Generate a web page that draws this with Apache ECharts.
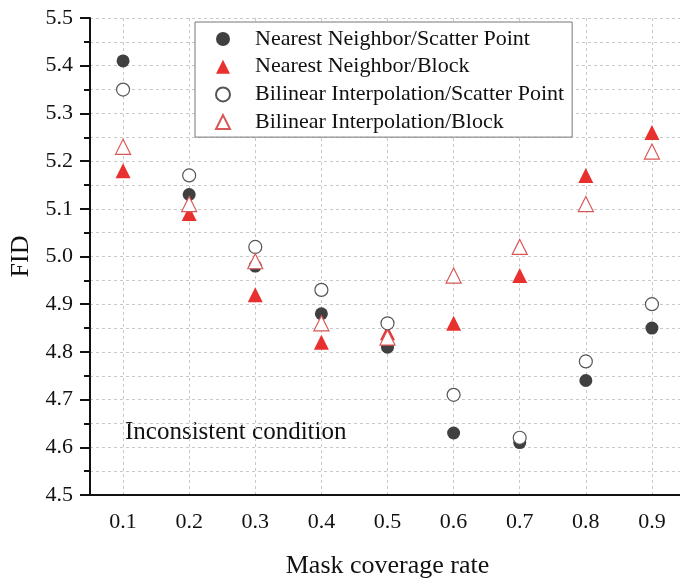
<!DOCTYPE html>
<html>
<head>
<meta charset="utf-8">
<script src="https://cdn.jsdelivr.net/npm/echarts@6/dist/echarts.min.js"></script>
<style>
html,body{margin:0;padding:0;background:#fff;}
#main{width:680px;height:578px;}
</style>
</head>
<body>
<div id="main"></div>
<script>
// 掩膜覆盖率
var rates=["0.1","0.2","0.3","0.4","0.5","0.6","0.7","0.8","0.9"];
// 各方法的FID
var nnScatter=[5.41,5.13,4.98,4.88,4.81,4.63,4.61,4.74,4.85];
var nnBlock=[5.18,5.09,4.92,4.82,4.84,4.86,4.96,5.17,5.26];
var biScatter=[5.35,5.17,5.02,4.93,4.86,4.71,4.62,4.78,4.90];
var biBlock=[5.23,5.11,4.99,4.86,4.83,4.96,5.02,5.11,5.22];
var names=["Nearest Neighbor/Scatter Point","Nearest Neighbor/Block","Bilinear Interpolation/Scatter Point","Bilinear Interpolation/Block"];

var serif="'Liberation Serif','DejaVu Serif',serif";
var gridLine={show:true,lineStyle:{color:"#c8c8c8",width:1,type:[3,3]}};

var myChart=echarts.init(document.getElementById("main"));
var option={
    animation:false,
    backgroundColor:"#fff",
    grid:{left:90,top:18,width:595,height:477,outerBoundsMode:"none",containLabel:false},
    legend:{
        data:names,
        orient:"vertical",
        left:195,
        top:22,
        padding:[6,8,4,20],
        itemWidth:14,
        itemHeight:14,
        itemGap:5.7,
        borderColor:"#777",
        borderWidth:1,
        backgroundColor:"#fff",
        textStyle:{fontFamily:serif,fontSize:22,lineHeight:22,color:"#111",padding:[0,0,0,20]}
    },
    graphic:[{
        type:"text",
        left:125,
        top:420,
        style:{text:"Inconsistent condition",font:"25px "+serif,fill:"#111"}
    }],
    xAxis:{
        type:"category",
        data:rates,
        boundaryGap:true,
        name:"Mask coverage rate",
        nameLocation:"middle",
        nameGap:58,
        nameTextStyle:{fontFamily:serif,fontSize:26,color:"#111"},
        axisLine:{lineStyle:{color:"#111",width:2}},
        axisTick:{alignWithLabel:true,length:8,lineStyle:{color:"#111",width:2}},
        axisLabel:{margin:16,fontFamily:serif,fontSize:22,color:"#111"},
        splitLine:{show:true,alignWithLabel:true,lineStyle:gridLine.lineStyle}
    },
    yAxis:{
        type:"value",
        min:4.5,
        max:5.5,
        interval:0.1,
        name:"FID",
        nameLocation:"middle",
        nameGap:55,
        nameTextStyle:{fontFamily:serif,fontSize:26,color:"#111"},
        axisLine:{show:true,lineStyle:{color:"#111",width:2}},
        axisTick:{show:true,length:10,lineStyle:{color:"#111",width:2}},
        minorTick:{show:true,splitNumber:2,length:6,lineStyle:{color:"#111",width:2}},
        axisLabel:{margin:17,fontFamily:serif,fontSize:22,color:"#111",
            formatter:function(v){return v.toFixed(1);}},
        splitLine:gridLine,
        minorSplitLine:gridLine
    },
    series:[
        {name:names[0],type:"scatter",symbol:"circle",symbolSize:13,data:nnScatter,
            itemStyle:{color:"#404040",opacity:1}},
        {name:names[1],type:"scatter",symbol:"triangle",symbolSize:15,data:nnBlock,
            itemStyle:{color:"#e8312f",opacity:1}},
        {name:names[2],type:"scatter",symbol:"circle",symbolSize:13,data:biScatter,
            itemStyle:{color:"#fff",borderColor:"#555",borderWidth:1.2,opacity:1}},
        {name:names[3],type:"scatter",symbol:"triangle",symbolSize:15,data:biBlock,
            itemStyle:{color:"#fff",borderColor:"#d95757",borderWidth:1.2,opacity:1}}
    ]
};
myChart.setOption(option);
</script>
</body>
</html>
